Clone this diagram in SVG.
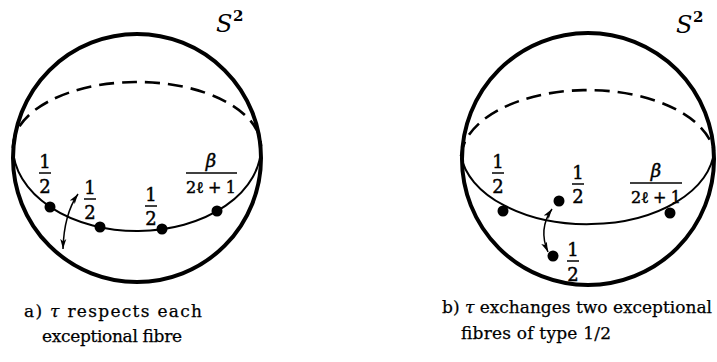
<svg xmlns="http://www.w3.org/2000/svg" width="717" height="362" viewBox="0 0 717 362">
<style>
.sphere{fill:none;stroke:#000;stroke-width:4}
.back{fill:none;stroke:#000;stroke-width:2.6;stroke-dasharray:15 8}
.front{fill:none;stroke:#000;stroke-width:2}
.dot{fill:#000}
.arr{fill:none;stroke:#000;stroke-width:1.5;marker-start:url(#ah);marker-end:url(#ah)}
.frac{font-family:'DejaVu Serif','Liberation Serif',serif;font-size:18px;text-anchor:middle;fill:#000;stroke:#000;stroke-width:0.45}
.den{font-size:16px}
.bar{stroke:#000;stroke-width:1.5}
.lbl{font-family:'DejaVu Serif','Liberation Serif',serif;font-style:italic;font-size:24px;fill:#000}
.sup{font-family:'DejaVu Serif','Liberation Serif',serif;font-size:15px;font-weight:600;fill:#000}
.cap{font-family:'DejaVu Serif','Liberation Serif',serif;font-size:17px;fill:#000;stroke:#000;stroke-width:0.25}
</style>
<defs>
<marker id="ah" markerUnits="userSpaceOnUse" markerWidth="10" markerHeight="7" refX="10" refY="3.5" orient="auto-start-reverse">
<path d="M0,0.5 L10,3.5 L0,6.5 L2.5,3.5 z" fill="#000"/>
</marker>
</defs>
<rect width="717" height="362" fill="#fff"/>

<g id="sphere-a">
<circle class="sphere" cx="137" cy="158" r="124"/>
<path class="back" d="M13,148 A124,65 0 0 1 261,146"/>
<path class="front" d="M13,148 A124,84 0 0 0 261,146"/>
<text class="lbl" x="216" y="32">S</text><text class="sup" x="233" y="21">2</text>
</g>
<g id="fibre-a1">
<circle class="dot" cx="50" cy="207" r="5.5"/>
<text class="frac" x="45" y="168">1</text><line class="bar" x1="39" y1="173" x2="51" y2="173"/><text class="frac" x="45" y="193">2</text>
</g>
<g id="fibre-a2">
<circle class="dot" cx="100" cy="227" r="5.5"/>
<text class="frac" x="90" y="194">1</text><line class="bar" x1="84" y1="199" x2="96" y2="199"/><text class="frac" x="90" y="219">2</text>
</g>
<g id="fibre-a3">
<circle class="dot" cx="162" cy="229" r="5.5"/>
<text class="frac" x="151" y="201">1</text><line class="bar" x1="145" y1="206" x2="157" y2="206"/><text class="frac" x="151" y="225">2</text>
</g>
<g id="fibre-a4">
<circle class="dot" cx="217" cy="211" r="5.5"/>
<text class="frac" x="211" y="167" font-style="italic">β</text><line class="bar" x1="186" y1="173" x2="237" y2="173"/><text class="frac den" x="211" y="193" textLength="50">2ℓ + 1</text>
</g>

<g id="sphere-b">
<circle class="sphere" cx="588" cy="159" r="126"/>
<path class="back" d="M461,156 A127,69 0 0 1 714,151"/>
<path class="front" d="M461,156 A127,77 0 0 0 714,151"/>
<text class="lbl" x="676" y="33">S</text><text class="sup" x="693" y="22">2</text>
</g>
<g id="fibre-b1">
<circle class="dot" cx="503" cy="211" r="5.5"/>
<text class="frac" x="498" y="168">1</text><line class="bar" x1="492" y1="173" x2="504" y2="173"/><text class="frac" x="498" y="193">2</text>
</g>
<g id="fibre-b2">
<circle class="dot" cx="559" cy="201" r="5.5"/>
<text class="frac" x="578" y="179">1</text><line class="bar" x1="572" y1="184" x2="584" y2="184"/><text class="frac" x="578" y="203">2</text>
</g>
<g id="fibre-b3">
<circle class="dot" cx="670" cy="213" r="5.5"/>
<text class="frac" x="656" y="177" font-style="italic">β</text><line class="bar" x1="630" y1="183" x2="682" y2="183"/><text class="frac den" x="656" y="203" textLength="50">2ℓ + 1</text>
</g>
<g id="fibre-b4">
<circle class="dot" cx="553" cy="256" r="5.5"/>
<text class="frac" x="573" y="256">1</text><line class="bar" x1="567" y1="261" x2="579" y2="261"/><text class="frac" x="573" y="281">2</text>
</g>

<g id="connectors">
<path class="arr" d="M78,194 Q64,214 63,249"/>
<path class="arr" d="M552,209 Q538,229 548,252"/>
</g>

<g id="captions">
<text class="cap" x="24" y="317" textLength="178" lengthAdjust="spacing">a) <tspan font-style="italic">τ</tspan> respects each</text>
<text class="cap" x="42" y="342" textLength="140" lengthAdjust="spacing">exceptional fibre</text>
<text class="cap" x="442" y="313" textLength="270" lengthAdjust="spacing">b) <tspan font-style="italic">τ</tspan> exchanges two exceptional</text>
<text class="cap" x="461" y="339" textLength="150" lengthAdjust="spacing">fibres of type 1/2</text>
</g>
</svg>
